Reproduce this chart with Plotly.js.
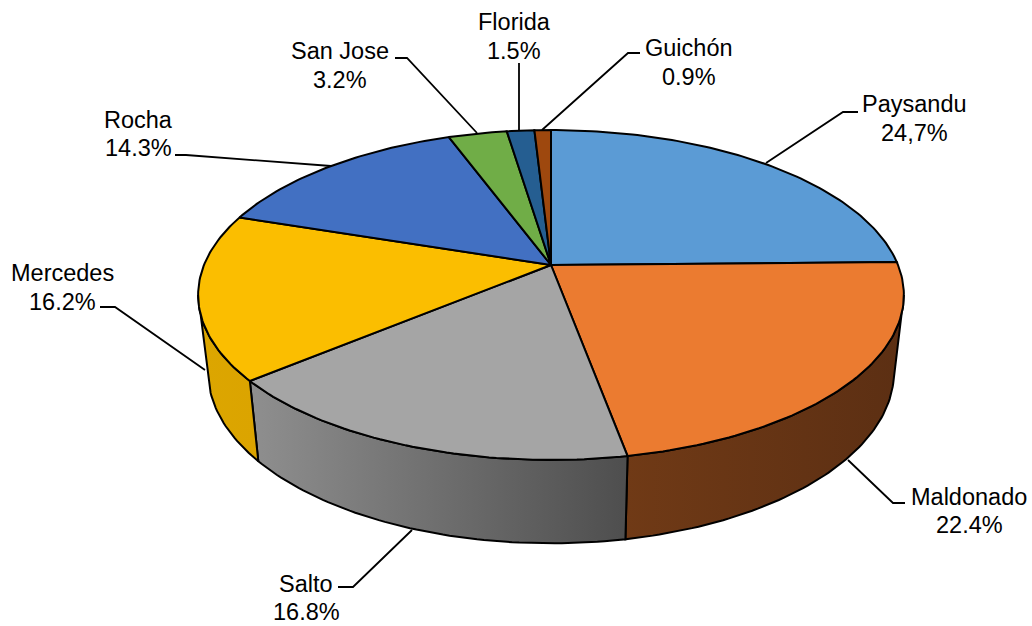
<!DOCTYPE html>
<html>
<head>
<meta charset="utf-8">
<script src="https://cdn.plot.ly/plotly-3.0.1.min.js"></script>
<style>html,body{margin:0;padding:0;background:#fff}#chart{width:1032px;height:626px}</style>
</head>
<body>
<div id="chart"></div>
<script>
// Data
const categories = ["Paysandu","Maldonado","Salto","Mercedes","Rocha","San Jose","Florida","Guichón"];
const shares = [24.7,22.4,16.8,16.2,14.3,3.2,1.5,0.9];
const shareLabels = ["24,7%","22.4%","16.8%","16.2%","14.3%","3.2%","1.5%","0.9%"];

// Styles
const topColors = ["#5B9BD5","#EB7B30","#A5A5A5","#FBBE00","#4270C2","#70AD47","#255E91","#9E480E"];
const wallGradients = [
  ["#6F3A15","#5C2F13"],["#703A16","#5C2F13"],["#8F8F8F","#4E4E4E"],["#DCA600","#DBA400"],
  null,null,null,null
];

// Label placement: centre x, name y, value y
const labelX = [914,969,306,62,138,340,514,689];
const labelNameY = [104,497,584,273,120,51,22,48];
const labelValueY = [133,525,612,302,148,80,51,77];
const leaderX = [[766,843,858],[848,893,905],[412,353,338],[205,115,100],[331,186,175],[477,407,395],[519,519],[542,628,640]];
const leaderY = [[163,112,112],[460,503,503],[530,587,587],[370,307,307],[166,155,155],[133,58,58],[130,63],[130,53,53]];

// Projection of the pie disc in perspective
const CX = 551, CY = 265, RX = 347, RY = 159.5, P = 0.1818;
const WALL_SX = 0.972, WALL_SY = 1.04, WALL_DY = 65;
function rim(deg){
  const a = deg*Math.PI/180, u = Math.sin(a), v = Math.cos(a), d = 1+P*v;
  return [CX+RX*u/d, CY-RY*v/d];
}
function lower(pt){ return [CX+(pt[0]-CX)*WALL_SX, pt[1]*WALL_SY+WALL_DY]; }
function arc(a0,a1){
  const out=[], n=Math.max(2,Math.ceil(Math.abs(a1-a0)));
  for(let i=0;i<=n;i++) out.push(rim(a0+(a1-a0)*i/n));
  return out;
}
const visFrom = Math.acos(-P)*180/Math.PI, visTo = 360-visFrom;

const total = shares.reduce((s,x)=>s+x,0);
const traces = [];
const base = {type:"scatter",mode:"lines",hoverinfo:"skip",showlegend:false};

// Leader lines
categories.forEach((c,i)=>{
  traces.push({...base,x:leaderX[i],y:leaderY[i],line:{color:"#000",width:1.8}});
});

// Walls then top faces
let start = 0; const walls=[], tops=[];
shares.forEach((s,i)=>{
  const end = start+s/total*360;
  const a0=Math.max(start,visFrom), a1=Math.min(end,visTo);
  if(a1>a0 && wallGradients[i]){
    const t=arc(a0,a1), b=t.map(lower).reverse(), pts=t.concat(b,[t[0]]);
    walls.push({...base,x:pts.map(p=>p[0]),y:pts.map(p=>p[1]),fill:"toself",
      line:{color:"#000",width:2},
      fillgradient:{type:"horizontal",colorscale:[[0,wallGradients[i][0]],[1,wallGradients[i][1]]]}});
  }
  const r=arc(start,end), pts=[[CX,CY]].concat(r,[[CX,CY]]);
  tops.push({...base,x:pts.map(p=>p[0]),y:pts.map(p=>p[1]),fill:"toself",fillcolor:topColors[i],
    line:{color:"#000",width:2}});
  start=end;
});
traces.push(...walls,...tops);

const font={family:"Liberation Sans, Arial, sans-serif",size:23.5,color:"#000"};
const annotations=[];
categories.forEach((c,i)=>{
  annotations.push({xref:"x",yref:"y",x:labelX[i],y:labelNameY[i],text:c,showarrow:false,font,xanchor:"center",yanchor:"middle"});
  annotations.push({xref:"x",yref:"y",x:labelX[i],y:labelValueY[i],text:shareLabels[i],showarrow:false,font,xanchor:"center",yanchor:"middle"});
});

Plotly.newPlot("chart",traces,{
  width:1032,height:626,margin:{l:0,r:0,t:0,b:0},
  paper_bgcolor:"#fff",plot_bgcolor:"#fff",showlegend:false,
  xaxis:{range:[0,1032],visible:false,fixedrange:true},
  yaxis:{range:[626,0],visible:false,fixedrange:true},
  annotations
},{displayModeBar:false,staticPlot:true});
</script>
</body>
</html>
